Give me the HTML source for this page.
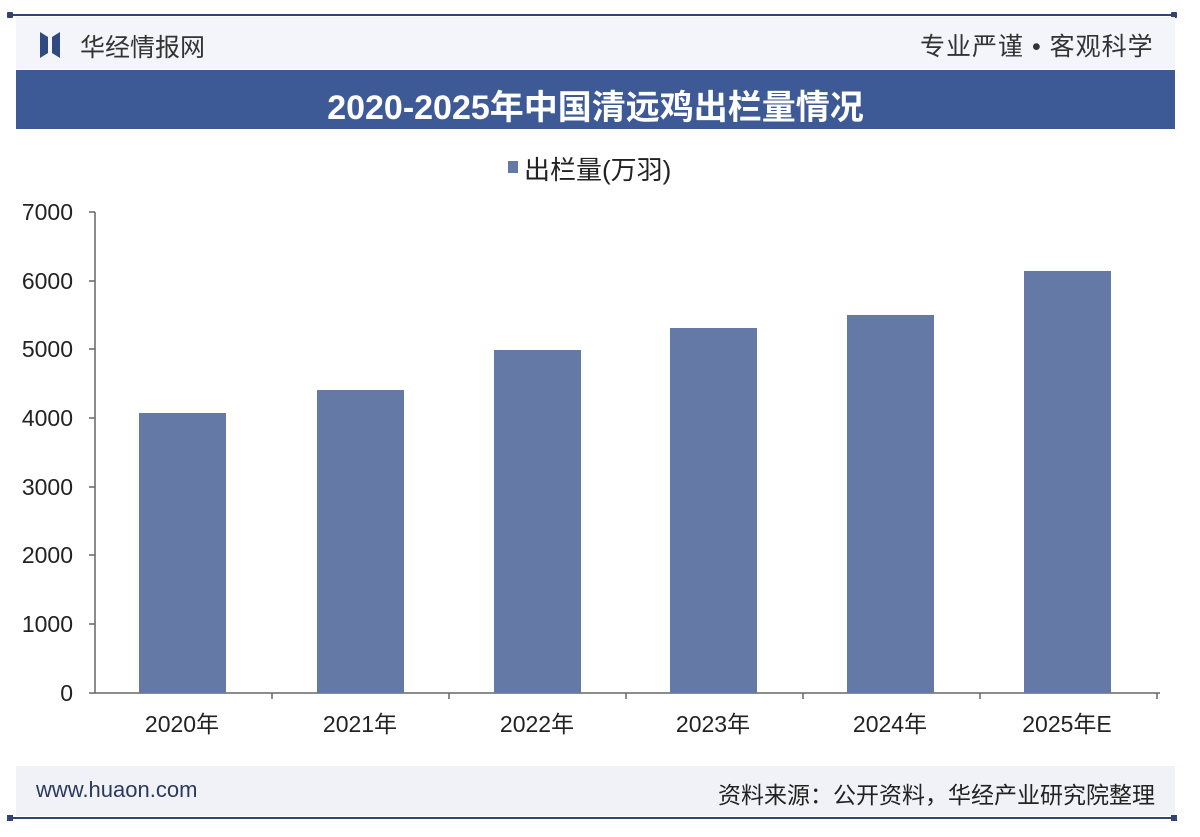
<!DOCTYPE html>
<html><head><meta charset="utf-8"><style>
body{margin:0;width:1200px;height:837px;background:#fbfcfe;overflow:hidden;font-family:"Liberation Sans","Noto Sans CJK SC",sans-serif;position:relative}
.a{position:absolute}
</style></head><body>
<div class="a" style="left:0;top:0;width:1200px;height:837px;background:#fff"></div>
<div class="a" style="left:8px;top:14px;width:1168px;height:2px;background:#2f4470"></div>
<div class="a" style="left:7px;top:12px;width:6px;height:6px;background:#2f4470;border-radius:1px"></div>
<div class="a" style="left:1171px;top:12px;width:6px;height:6px;background:#2f4470;border-radius:1px"></div>
<div class="a" style="left:16px;top:17px;width:1159px;height:52px;background:#f3f5fa"></div>
<svg class="a" style="left:40px;top:32px" width="28" height="26"><polygon points="0,0 8,5 8,21 0,26" fill="#2f4a80"/><polygon points="12,5 20,0 20,26 12,21" fill="#2f4a80"/></svg>
<div class="a" style="left:80px;top:28px;font-size:25px;color:#333">华经情报网</div>
<div class="a" style="left:920px;top:27px;font-size:25px;color:#333;letter-spacing:1px">专业严谨 • 客观科学</div>
<div class="a" style="left:16px;top:70px;width:1159px;height:59px;background:#3e5a96"></div>
<div class="a" style="left:16px;top:80px;width:1159px;text-align:center;font-size:34px;font-weight:bold;color:#fff;font-family:'Liberation Sans','Noto Sans CJK SC',sans-serif">2020-2025年中国清远鸡出栏量情况</div>
<div class="a" style="left:508px;top:161px;width:10px;height:12px;background:#6479a5"></div>
<div class="a" style="left:524px;top:150px;font-size:26px;color:#222">出栏量(万羽)</div>
<svg class="a" style="left:0;top:0" width="1200" height="837">
<g font-size="23" fill="#222" text-anchor="end" font-family="Liberation Sans, sans-serif">
<text x="73" y="220">7000</text><text x="73" y="289">6000</text><text x="73" y="357">5000</text><text x="73" y="426">4000</text><text x="73" y="495">3000</text><text x="73" y="563">2000</text><text x="73" y="632">1000</text><text x="73" y="701">0</text>
</g>
<g stroke="#666" stroke-width="1.5">
<line x1="95" y1="212" x2="95" y2="693"/>
<line x1="89" y1="693" x2="1160" y2="693"/>
<line x1="89" y1="212" x2="95" y2="212"/><line x1="89" y1="281" x2="95" y2="281"/><line x1="89" y1="349" x2="95" y2="349"/><line x1="89" y1="418" x2="95" y2="418"/><line x1="89" y1="487" x2="95" y2="487"/><line x1="89" y1="555" x2="95" y2="555"/><line x1="89" y1="624" x2="95" y2="624"/>
<line x1="272" y1="693" x2="272" y2="699"/><line x1="449" y1="693" x2="449" y2="699"/><line x1="626" y1="693" x2="626" y2="699"/><line x1="803" y1="693" x2="803" y2="699"/><line x1="980" y1="693" x2="980" y2="699"/><line x1="1157" y1="693" x2="1157" y2="699"/>
</g>
<g fill="#6479a5">
<rect x="139" y="413" width="87" height="280"/>
<rect x="317" y="390" width="87" height="303"/>
<rect x="494" y="350" width="87" height="343"/>
<rect x="670" y="328" width="87" height="365"/>
<rect x="847" y="315" width="87" height="378"/>
<rect x="1024" y="271" width="87" height="422"/>
</g>
<g font-size="23" fill="#222" text-anchor="middle" font-family="Liberation Sans, Noto Sans CJK SC, sans-serif">
<text x="182" y="732">2020年</text><text x="360" y="732">2021年</text><text x="537" y="732">2022年</text><text x="713" y="732">2023年</text><text x="890" y="732">2024年</text><text x="1067" y="732">2025年E</text>
</g>
</svg>
<div class="a" style="left:16px;top:766px;width:1159px;height:50px;background:#f0f2f7"></div>
<div class="a" style="left:36px;top:777px;font-size:22px;color:#2b3a5c">www.huaon.com</div>
<div class="a" style="left:640px;top:776px;width:515px;text-align:right;font-size:23px;color:#222">资料来源：公开资料，华经产业研究院整理</div>
<div class="a" style="left:8px;top:817px;width:1168px;height:2px;background:#2f4470"></div>
<div class="a" style="left:7px;top:815px;width:6px;height:6px;background:#2f4470"></div>
<div class="a" style="left:1171px;top:815px;width:6px;height:6px;background:#2f4470"></div>
</body></html>
